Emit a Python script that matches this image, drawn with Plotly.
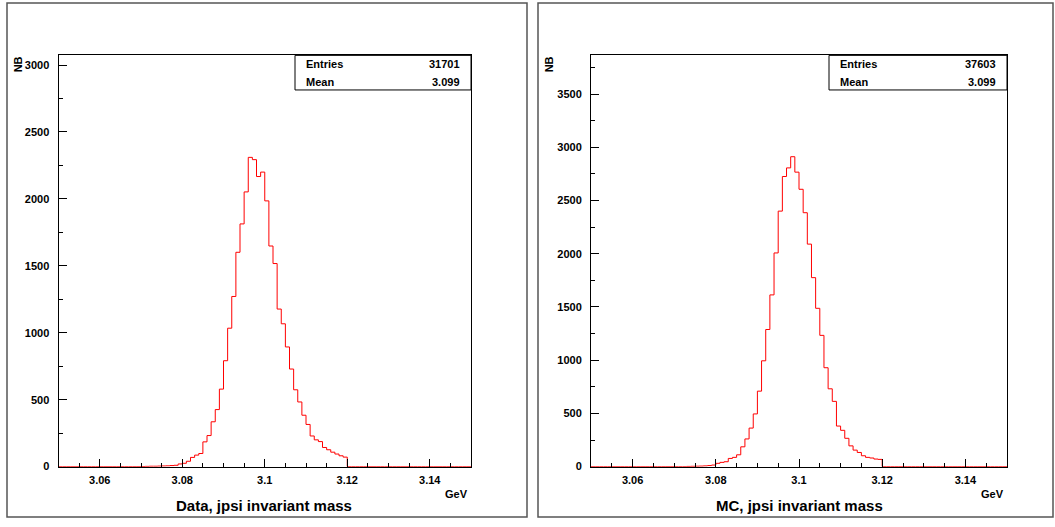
import numpy as np
import plotly.graph_objects as go

# ---------------- data ----------------
bin_low = 3.05
bin_width = 0.001
n_bins = 100

data_start = 3.070
data_counts = [1, 2, 3, 3, 4, 5, 6, 8, 10,
               20, 25, 40, 69, 86, 98, 185, 232, 335, 426,
               579, 791, 1034, 1271, 1601, 1813, 2052, 2310, 2293, 2167,
               2200, 1985, 1648, 1517, 1177, 1067, 894, 729, 574, 483,
               384, 315, 229, 200, 187, 143, 126, 108, 94, 81, 71]
data_entries = "31701"
data_mean = "3.099"

mc_start = 3.073
mc_counts = [2, 3, 4, 5, 7,
             10, 15, 31, 40, 46, 77, 87, 111, 186, 260,
             362, 495, 709, 994, 1288, 1613, 2007, 2400, 2725, 2806,
             2911, 2766, 2605, 2385, 2090, 1775, 1487, 1233, 929, 731,
             613, 381, 341, 266, 195, 155, 133, 102, 87, 81, 71, 68]
mc_entries = "37603"
mc_mean = "3.099"

x_tick_vals = [3.06, 3.08, 3.10, 3.12, 3.14]
x_tick_labels = ["3.06", "3.08", "3.1", "3.12", "3.14"]
data_y_ticks = [0, 500, 1000, 1500, 2000, 2500, 3000]
mc_y_ticks = [0, 500, 1000, 1500, 2000, 2500, 3000, 3500]
titles = ["Data, jpsi invariant mass", "MC, jpsi invariant mass"]
y_title = "NB"
x_unit = "GeV"

# ---------------- build ----------------
W, H = 1055, 527
edges = bin_low + np.arange(n_bins + 1) * bin_width


def full_hist(start, counts):
    arr = np.zeros(n_bins)
    i0 = int(round((start - bin_low) / bin_width))
    arr[i0:i0 + len(counts)] = counts
    return np.append(arr, arr[-1])


def px(x):
    return x / W


def py(y):
    return 1 - y / H


FONT = "Liberation Sans, Arial, sans-serif"
fig = go.Figure()

panels = [
    dict(counts=full_hist(data_start, data_counts), yticks=data_y_ticks, ymax=3072,
         x0=58.5, x1=471, pad=(7, 527), entries=data_entries, mean=data_mean,
         box=(295, 471), title=titles[0], tcx=263.5),
    dict(counts=full_hist(mc_start, mc_counts), yticks=mc_y_ticks, ymax=3863,
         x0=591, x1=1007, pad=(538, 1053), entries=mc_entries, mean=mc_mean,
         box=(829, 1007), title=titles[1], tcx=799),
]

top_px, bot_px = 56, 472
shapes = []
annotations = []
for k, p in enumerate(panels):
    xa = "x" if k == 0 else "x2"
    ya = "y" if k == 0 else "y2"
    fig.add_trace(go.Scatter(x=edges, y=p["counts"], mode="lines", line_shape="hv",
                             line=dict(color="#ff0000", width=1), xaxis=xa, yaxis=ya,
                             showlegend=False, hoverinfo="skip"))
    axis_common = dict(showline=True, linecolor="black", linewidth=1, mirror=True,
                       showgrid=False, zeroline=False, ticks="inside",
                       tickcolor="black", tickfont=dict(family=FONT, size=11, color="black",
                                                        weight="bold"))
    xkey = "xaxis" if k == 0 else "xaxis2"
    ykey = "yaxis" if k == 0 else "yaxis2"
    fig.update_layout(**{
        xkey: dict(axis_common, domain=[px(p["x0"]), px(p["x1"])], range=[3.05, 3.15],
                   anchor=ya, tickvals=x_tick_vals, ticktext=x_tick_labels, ticklen=8,
                   minor=dict(dtick=0.005, tick0=3.05, ticks="inside", ticklen=4,
                              tickcolor="black"), ticklabelstandoff=3),
        ykey: dict(axis_common, domain=[py(bot_px), py(top_px)], range=[0, p["ymax"]],
                   anchor=xa, tickvals=p["yticks"], ticklen=8,
                   minor=dict(dtick=250, tick0=0, ticks="inside", ticklen=4,
                              tickcolor="black"), ticklabelstandoff=6),
    })
    # pad border
    shapes.append(dict(type="rect", xref="paper", yref="paper",
                       x0=px(p["pad"][0]), x1=px(p["pad"][1]), y0=py(523), y1=py(3),
                       line=dict(color="#555555", width=1.5), fillcolor="rgba(0,0,0,0)",
                       layer="below"))
    # stats box
    bx0, bx1 = p["box"]
    shapes.append(dict(type="rect", xref="paper", yref="paper",
                       x0=px(bx0), x1=px(bx1), y0=py(91), y1=py(56),
                       line=dict(color="black", width=1), fillcolor="white"))
    sfont = dict(family=FONT, size=11, color="black", weight="bold")
    for label, val, yy in [("Entries", p["entries"], 65), ("Mean", p["mean"], 82.5)]:
        annotations.append(dict(xref="paper", yref="paper", x=px(bx0 + 9), y=py(yy),
                                text=label, showarrow=False, xanchor="left",
                                yanchor="middle", font=sfont))
        annotations.append(dict(xref="paper", yref="paper", x=px(bx1 - 9), y=py(yy),
                                text=val, showarrow=False, xanchor="right",
                                yanchor="middle", font=sfont))
    # title
    annotations.append(dict(xref="paper", yref="paper", x=px(p["tcx"]),
                            y=py(511), text=p["title"], showarrow=False,
                            xanchor="center", yanchor="middle",
                            font=dict(family=FONT, size=15, color="black", weight="bold")))
    # x unit
    annotations.append(dict(xref="paper", yref="paper", x=px(p["x1"] - 1), y=py(500),
                            text=x_unit, showarrow=False, xanchor="right",
                            yanchor="middle",
                            font=dict(family=FONT, size=11, color="black", weight="bold")))
    # y title
    annotations.append(dict(xref="paper", yref="paper", x=px(p["pad"][0] + 11), y=py(55),
                            text=y_title, showarrow=False, textangle=-90,
                            xanchor="center", yanchor="top",
                            font=dict(family=FONT, size=11, color="black", weight="bold")))

fig.update_layout(width=W, height=H, autosize=False,
                  margin=dict(l=0, r=0, t=0, b=0),
                  paper_bgcolor="white", plot_bgcolor="white",
                  shapes=shapes, annotations=annotations)

page_fix = """
var de=document.documentElement, b=document.body;
de.style.margin='0'; de.style.padding='0'; de.style.overflow='hidden';
b.style.margin='0'; b.style.padding='0'; b.style.overflow='hidden';
"""
fig.write_html("out.html", config={"displayModeBar": False}, post_script=page_fix)
